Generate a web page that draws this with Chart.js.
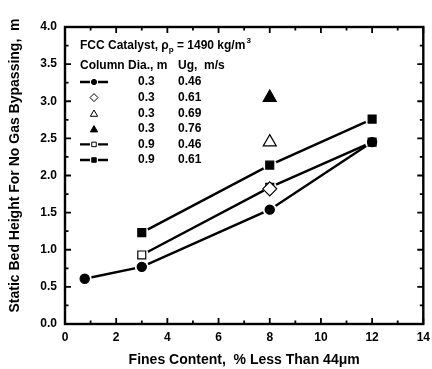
<!DOCTYPE html>
<html>
<head>
<meta charset="utf-8">
<script src="https://cdn.jsdelivr.net/npm/chart.js@4"></script>
<style>
  html, body { margin: 0; padding: 0; background: #fff; }
  #wrap { width: 432px; height: 369px; }
</style>
</head>
<body>
<div id="wrap"><canvas id="myChart"></canvas></div>
<script>
// veriler
const fines_03_046 = [0.77, 3, 8, 12];
const bed_03_046 = [0.61, 0.77, 1.54, 2.45];
const fines_03_061 = [8];
const bed_03_061 = [1.82];
const fines_03_069 = [8];
const bed_03_069 = [2.45];
const fines_03_076 = [8];
const bed_03_076 = [3.05];
const fines_09_046 = [3, 8, 12];
const bed_09_046 = [0.93, 1.84, 2.45];
const fines_09_061 = [3, 8, 12];
const bed_09_061 = [1.23, 2.14, 2.76];

const legendDia = ['0.3', '0.3', '0.3', '0.3', '0.9', '0.9'];
const legendUg = ['0.46', '0.61', '0.69', '0.76', '0.46', '0.61'];

const xTicks = [0, 2, 4, 6, 8, 10, 12, 14];
const yTicks = [0.0, 0.5, 1.0, 1.5, 2.0, 2.5, 3.0, 3.5, 4.0];

const yTitle = 'Static Bed Height For No Gas Bypassing,  m';
const xTitle = 'Fines Content,  % Less Than 44\u03BCm';

function pts(xs, ys) {
    return xs.map((x, i) => ({ x: x, y: ys[i] }));
}

const FONT = 'Liberation Sans, Arial, sans-serif';

// işaretler
function markerSet(xs, ys, style, fill, radius) {
    return {
        data: pts(xs, ys),
        showLine: false,
        pointStyle: style,
        pointRadius: radius,
        pointBackgroundColor: fill,
        pointBorderColor: '#000',
        pointBorderWidth: 1.2
    };
}
// çizgi kenarındaki beyaz boşluk
function haloSet(xs, ys, radius) {
    return {
        data: pts(xs, ys),
        showLine: false,
        pointStyle: 'circle',
        pointRadius: radius,
        pointBackgroundColor: '#fff',
        pointBorderWidth: 0
    };
}
function lineSet(xs, ys) {
    return {
        data: pts(xs, ys),
        showLine: true,
        borderColor: '#000',
        borderWidth: 2.4,
        pointRadius: 0
    };
}

// iç tarafa bakan tik çizgileri + çerçeve + y başlığı
const framePlugin = {
    id: 'frame',
    afterDraw(chart) {
        const c = chart.ctx, a = chart.chartArea;
        const xs = chart.scales.x, ys = chart.scales.y;
        c.save();
        c.strokeStyle = '#000';
        c.lineWidth = 1.8;
        for (let v = 0; v <= 14; v += 1) {
            const px = xs.getPixelForValue(v);
            const len = v % 2 === 0 ? 6 : 3.5;
            c.beginPath();
            c.moveTo(px, a.bottom); c.lineTo(px, a.bottom - len);
            c.moveTo(px, a.top); c.lineTo(px, a.top + len);
            c.stroke();
        }
        for (let i = 0; i <= 16; i++) {
            const v = i * 0.25;
            const py = ys.getPixelForValue(v);
            const len = i % 2 === 0 ? 6 : 3.5;
            c.beginPath();
            c.moveTo(a.left, py); c.lineTo(a.left + len, py);
            c.moveTo(a.right, py); c.lineTo(a.right - len, py);
            c.stroke();
        }
        c.lineWidth = 2.4;
        c.strokeRect(a.left, a.top, a.right - a.left, a.bottom - a.top);

        // y ekseni başlığı
        c.translate(15, (a.top + a.bottom) / 2 - 10);
        c.rotate(-Math.PI / 2);
        c.fillStyle = '#000';
        c.font = 'bold 14px ' + FONT;
        c.textAlign = 'center';
        c.textBaseline = 'middle';
        c.fillText(yTitle, 0, 0);
        c.restore();
    }
};

// el yapımı lejant
const legendPlugin = {
    id: 'customLegend',
    afterDatasetsDraw(chart) {
        const c = chart.ctx, a = chart.chartArea;
        const x0 = a.left + 15;
        const big = 'bold 12px ' + FONT, small = 'bold 8px ' + FONT;
        c.save();
        c.fillStyle = '#000';
        c.textBaseline = 'middle';
        c.font = big;
        let t = 'FCC Catalyst, ';
        c.fillText(t, x0, 46);
        let w = c.measureText(t).width;
        c.fillText('\u03C1', x0 + w, 46);
        w += c.measureText('\u03C1').width;
        c.font = small;
        c.fillText('p', x0 + w, 50);
        w += c.measureText('p').width;
        c.font = big;
        t = ' = 1490 kg/m';
        c.fillText(t, x0 + w, 46);
        w += c.measureText(t).width;
        c.font = small;
        c.fillText('3', x0 + w + 1, 41);
        c.font = big;
        c.fillText('Column Dia., m', x0, 66);
        c.fillText('Ug,  m/s', x0 + 98, 66);

        const styles = [
            ['circle', '#000', 2.6, true],
            ['rectRot', '#fff', 4, false],
            ['triangle', '#fff', 4.2, false],
            ['triangle', '#000', 4.2, false],
            ['rect', '#fff', 3.2, true],
            ['rect', '#000', 3.2, true]
        ];
        const helpers = Chart.helpers;
        for (let i = 0; i < legendDia.length; i++) {
            const y = 82 + i * 15.6;
            const mx = x0 + 14;
            const s = styles[i];
            if (s[3]) {
                c.lineWidth = 2.4;
                c.strokeStyle = '#000';
                c.beginPath();
                c.moveTo(x0, y); c.lineTo(mx - 4, y);
                c.moveTo(mx + 4, y); c.lineTo(mx + 14, y);
                c.stroke();
            }
            c.fillStyle = s[1];
            c.strokeStyle = '#000';
            c.lineWidth = 1;
            helpers.drawPoint(c, { pointStyle: s[0], radius: s[2], borderWidth: 1, rotation: 0 }, mx, s[0] === 'triangle' ? y + 1 : y);
            c.fillStyle = '#000';
            c.font = big;
            c.fillText(legendDia[i], x0 + 58, y);
            c.fillText(legendUg[i], x0 + 98, y);
        }
        c.restore();
    }
};

const ctx = document.getElementById('myChart');
const chart = new Chart(ctx, {
    type: 'scatter',
    data: {
        datasets: [
            markerSet(fines_03_046, bed_03_046, 'circle', '#000', 4.6),
            markerSet(fines_03_061, bed_03_061, 'rectRot', '#fff', 7),
            markerSet(fines_03_069, bed_03_069, 'triangle', '#fff', 7.5),
            markerSet(fines_03_076, bed_03_076, 'triangle', '#000', 7.5),
            markerSet(fines_09_046, bed_09_046, 'rect', '#fff', 5.6),
            markerSet(fines_09_061, bed_09_061, 'rect', '#000', 5.6),
            haloSet(fines_03_046, bed_03_046, 7),
            haloSet(fines_09_046, bed_09_046, 7),
            haloSet(fines_09_061, bed_09_061, 7),
            lineSet(fines_03_046, bed_03_046),
            lineSet(fines_09_046, bed_09_046),
            lineSet(fines_09_061, bed_09_061)
        ]
    },
    options: {
        responsive: true,
        maintainAspectRatio: false,
        animation: false,
        layout: { padding: { top: 27, right: 5, left: 0, bottom: 0 } },
        plugins: {
            legend: { display: false },
            tooltip: { enabled: false }
        },
        scales: {
            x: {
                type: 'linear',
                min: 0,
                max: 14,
                grid: { display: false, drawTicks: false },
                border: { display: false },
                afterBuildTicks: (scale) => { scale.ticks = xTicks.map(v => ({ value: v })); },
                afterFit: (scale) => { scale.height = 45; scale.paddingLeft = 0; scale.paddingRight = 0; },
                ticks: {
                    color: '#000',
                    padding: 6,
                    maxRotation: 0,
                    font: { family: FONT, size: 12, weight: 'bold' }
                },
                title: {
                    display: true,
                    text: xTitle,
                    color: '#000',
                    padding: { top: 0, bottom: 0 },
                    font: { family: FONT, size: 14, weight: 'bold' }
                }
            },
            y: {
                type: 'linear',
                min: 0,
                max: 4,
                grid: { display: false, drawTicks: false },
                border: { display: false },
                afterBuildTicks: (scale) => { scale.ticks = yTicks.map(v => ({ value: v })); },
                afterFit: (scale) => { scale.width = 65; },
                ticks: {
                    color: '#000',
                    padding: 8,
                    callback: (v) => Number(v).toFixed(1),
                    font: { family: FONT, size: 12, weight: 'bold' }
                }
            }
        }
    },
    plugins: [framePlugin, legendPlugin]
});
</script>
</body>
</html>
